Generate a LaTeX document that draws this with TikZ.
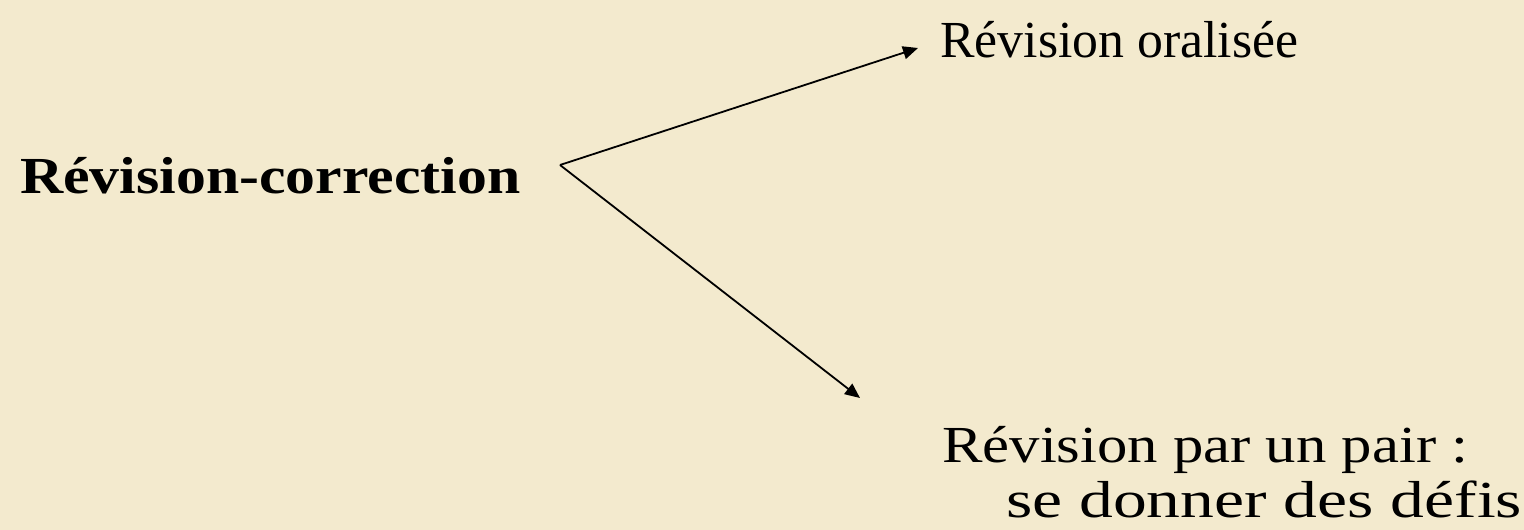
\documentclass[tikz,border=0pt]{standalone}
\usepackage{fontspec}
\usepackage{graphicx}
\setmainfont{Liberation Serif}
\usetikzlibrary{arrows.meta}
\definecolor{parch}{RGB}{243,234,206}
\newcommand{\fitw}[2]{\resizebox{#1}{\height}{#2}}
\begin{document}
\begin{tikzpicture}[x=1pt,y=-1pt,
  lbl/.style={anchor=base west,inner sep=0pt,font=\fontsize{52}{62}\selectfont},
  conn/.style={draw=black,line width=1.8pt,-{Triangle[length=15pt,width=13pt]}}]
\fill[parch] (0,0) rectangle (1524,530);
\useasboundingbox (0,0) rectangle (1524,530);
\node[lbl,font=\fontsize{52}{62}\selectfont\bfseries] (rc) at (20,193) {\fitw{500pt}{Révision-correction}};
\node[lbl] (ro) at (940,57) {\fitw{358pt}{Révision oralisée}};
\node[lbl] (rp1) at (942,462) {\fitw{526pt}{Révision par un pair :}};
\node[lbl] (rp2) at (1006,517) {\fitw{516pt}{se donner des défis}};
\coordinate (v) at (560,165);
\coordinate (t1) at (918,48);
\coordinate (t2) at (860,398);
\draw[conn] (v) -- (t1);
\draw[conn] (v) -- (t2);
\end{tikzpicture}
\end{document}
